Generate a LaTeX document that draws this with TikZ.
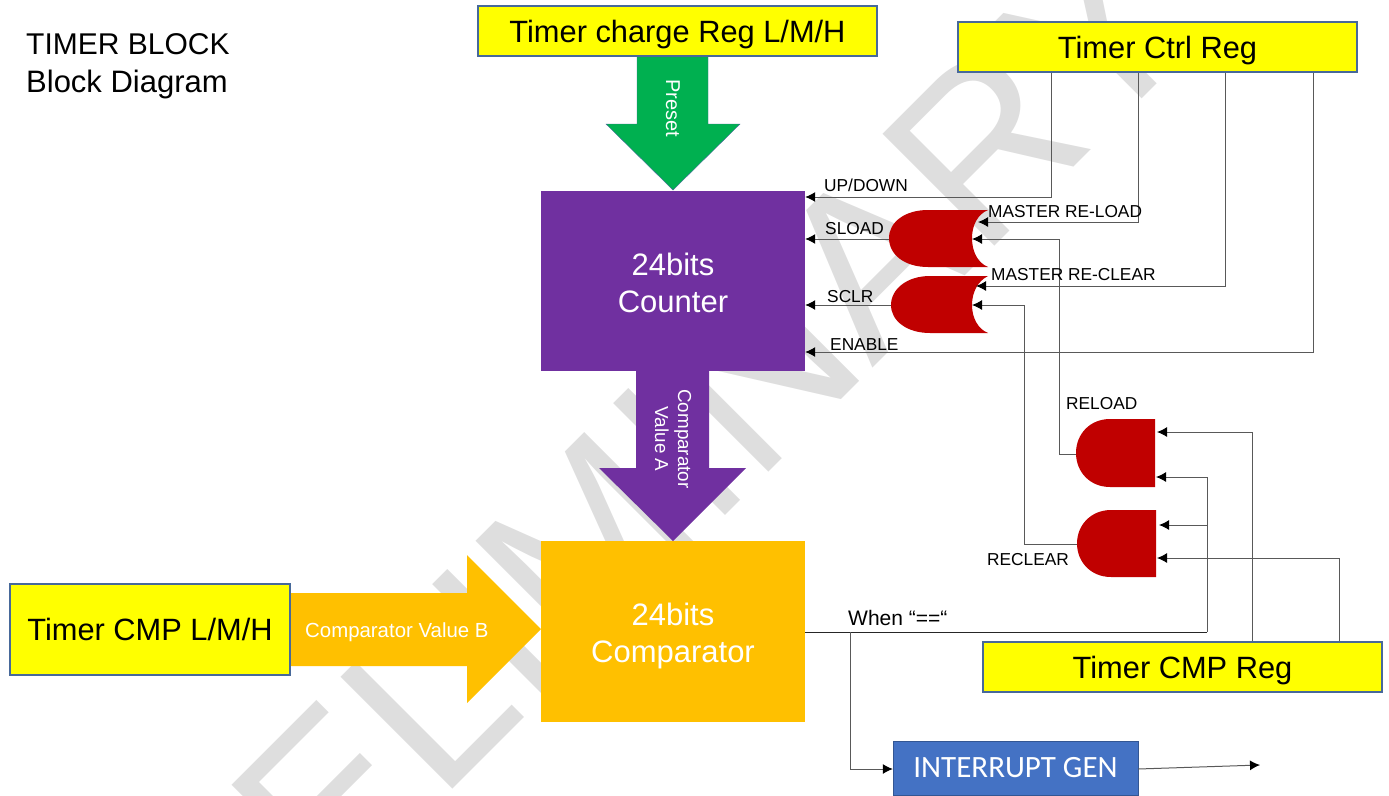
\documentclass[tikz,border=0pt]{standalone}
\usepackage{fontspec}
\usepackage{tikz}
\usetikzlibrary{arrows.meta}
\setmainfont{Liberation Sans}
\newfontfamily\calibri{Carlito}
\definecolor{regyellow}{HTML}{FFFF00}
\definecolor{regedge}{HTML}{47699A}
\definecolor{cntpurple}{HTML}{7030A0}
\definecolor{cmporange}{HTML}{FFC000}
\definecolor{presetgreen}{HTML}{00B050}
\definecolor{gatered}{HTML}{C00000}
\definecolor{genblue}{HTML}{4472C4}
\definecolor{markgray}{HTML}{DEDEDE}
\tikzset{
  reg/.style={draw=regedge,line width=1.5pt,fill=regyellow,text=black,inner sep=0pt,
    text height=22pt,text depth=0pt,font=\fontsize{30.8}{36}\selectfont},
  block/.style={inner sep=0pt,minimum width=264pt},
  blocktext/.style={inner sep=0pt,text=white,align=center,font=\fontsize{31}{37}\selectfont},
  wire/.style={draw=black!65,line width=1pt},
  arr/.style={wire,-{Latex[length=10pt,width=10pt,black]}},
  gate/.style={fill=gatered},
  sig/.style={anchor=base west,inner sep=0pt,font=\fontsize{17.3}{20}\selectfont},
  heading/.style={anchor=base west,inner sep=0pt,font=\fontsize{31}{38}\selectfont},
  buslabel/.style={inner sep=0pt,text=white,align=center,font=\fontsize{18.8}{23}\selectfont}
}
\begin{document}
\begin{tikzpicture}
[
  x=1pt,y=-1pt
]
\useasboundingbox (0,0) rectangle (1389,795);

% watermark
\begin{scope}
\clip (0,0) rectangle (1389,795);
\node[anchor=base west,text=markgray,inner sep=0pt,font=\fontsize{230}{230}\selectfont,rotate=45] (mark) at (104.5,1136.5) {PRELIMINARY};
\end{scope}

% thick arrows
\draw[draw=regedge,fill=presetgreen] (637,56) -- (637,124) -- (606,124) -- (673,190) -- (740,124) -- (708,124) -- (708,56);
\fill[cntpurple] (636,371) -- (636,468) -- (599,468) -- (673,541) -- (746,468) -- (709,468) -- (709,371) -- cycle;
\fill[cmporange] (290,593) -- (467,593) -- (467,555) -- (541,629) -- (467,703) -- (467,666) -- (290,666) -- cycle;

% registers
\node[reg,minimum width=399pt,minimum height=50pt] (charge) at (677.5,31) {Timer charge Reg L/M/H};
\node[reg,minimum width=399pt,minimum height=50pt] (ctrl) at (1157.5,47) {Timer Ctrl Reg};
\node[reg,minimum width=280pt,minimum height=91pt] (cmpin) at (150,629.5) {Timer CMP L/M/H};
\node[reg,minimum width=399pt,minimum height=50pt] (cmpreg) at (1182.5,667) {Timer CMP Reg};

% main blocks
\node[block,fill=cntpurple,minimum height=180pt] (counter) at (673,281) {};
\node[blocktext,yshift=-2pt] (countertext) at (counter) {24bits\\Counter};
\node[block,fill=cmporange,minimum height=181pt] (comparator) at (673,631.5) {};
\node[blocktext,yshift=-4pt] (comparatortext) at (comparator) {24bits\\Comparator};
\node[fill=genblue,draw=genblue!75!black,text=white,inner sep=0pt,minimum width=245pt,minimum height=54pt,font=\calibri\fontsize{31}{36}\selectfont] (intgen) at (1015.5,768) {INTERRUPT GEN};

% gates
\fill[gate] (988,210) -- (928,210) .. controls (905,210) and (889,222) .. (889,238) .. controls (889,255) and (905,267) .. (928,267) -- (988,267) .. controls (978,263) and (972,252) .. (972,238) .. controls (972,225) and (978,214) .. (988,210) -- cycle;
\fill[gate] (988,276) -- (930,276) .. controls (907,276) and (891,289) .. (891,305) .. controls (891,321) and (907,333) .. (930,333) -- (988,333) .. controls (978,329) and (972,318) .. (972,305) .. controls (972,292) and (978,281) .. (988,276) -- cycle;
\fill[gate] (1155,419) -- (1110,419) .. controls (1090,419) and (1076,434) .. (1076,453) .. controls (1076,472) and (1090,487) .. (1110,487) -- (1155,487) -- cycle;
\fill[gate] (1156,510) -- (1111,510) .. controls (1091,510) and (1077,525) .. (1077,543.5) .. controls (1077,562) and (1091,577) .. (1111,577) -- (1156,577) -- cycle;

% signal corners
\coordinate (updown) at (1051,197);
\coordinate (mload) at (1138,222);
\coordinate (mclear) at (1225,286);
\coordinate (enable) at (1313,352);
\coordinate (sload) at (889,239);
\coordinate (sclr) at (891,305);
\coordinate (loadin) at (972,239);
\coordinate (clearin) at (972,305);
\coordinate (mloadin) at (978,222);
\coordinate (mclearin) at (976,286);
\coordinate (reloadA) at (1059,454);
\coordinate (reclearA) at (1024,544);
\coordinate (reloadpin) at (1076,454);
\coordinate (reclearpin) at (1077,544);
\coordinate (andone) at (1157,432);
\coordinate (andtwo) at (1156,477);
\coordinate (andthree) at (1159,525);
\coordinate (andfour) at (1157,558);
\coordinate (eqend) at (1207,632);
\coordinate (eqtap) at (850,632);
\coordinate (genin) at (850,769);
\coordinate (genout) at (1260,765);

% control register lines
\draw[arr] (ctrl.south -| updown) -- (updown) -- (updown -| counter.east);
\draw[arr] (ctrl.south -| mload) -- (mload) -- (mloadin);
\draw[arr] (ctrl.south -| mclear) -- (mclear) -- (mclearin);
\draw[arr] (ctrl.south -| enable) -- (enable) -- (enable -| counter.east);
\draw[arr] (sload) -- (sload -| counter.east);
\draw[arr] (sclr) -- (sclr -| counter.east);

% reload and reclear
\draw[arr] (reloadpin) -- (reloadA) -- (reloadA |- loadin) -- (loadin);
\draw[arr] (reclearpin) -- (reclearA) -- (reclearA |- clearin) -- (clearin);

% compare register lines
\draw[arr] (cmpreg.north -| 1252,0) -- (1252,432) -- (andone);
\draw[arr] (cmpreg.north -| 1339,0) -- (1339,558) -- (andfour);
\draw[arr] (eqend) -- (1207,477) -- (andtwo);
\draw[arr] (eqend) -- (1207,525) -- (andthree);
\draw[wire,black!85] (eqtap -| comparator.east) -- (eqend);
\draw[arr] (eqtap) -- (genin) -- (intgen.west |- genin);
\draw[arr] (intgen.east |- genin) -- (genout);

% texts
\node[heading,font=\fontsize{30}{38}\selectfont] (title) at (26,54) {TIMER BLOCK};
\node[heading] (subtitle) at (26,92) {Block Diagram};
\node[buslabel,rotate=-90,font=\fontsize{20}{24}\selectfont] (preset) at (673,108) {Preset};
\node[buslabel,rotate=-90] (valuea) at (673,439) {Comparator\\Value A};
\node[buslabel,anchor=base west,font=\fontsize{20.4}{24}\selectfont] (valueb) at (305,637) {Comparator Value B};
\node[sig] (updownlab) at (824,191) {UP/DOWN};
\node[sig] (sloadlab) at (825,234) {SLOAD};
\node[sig] (sclrlab) at (827,302) {SCLR};
\node[sig] (enablelab) at (830,350) {ENABLE};
\node[sig] (mloadlab) at (988,217.5) {MASTER RE-LOAD};
\node[sig] (mclearlab) at (991,280) {MASTER RE-CLEAR};
\node[sig] (reloadlab) at (1066,409) {RELOAD};
\node[sig] (reclearlab) at (987,565) {RECLEAR};
\node[sig,font=\fontsize{21}{24}\selectfont] (whenlab) at (848,625) {When “==“};

\end{tikzpicture}
\end{document}
